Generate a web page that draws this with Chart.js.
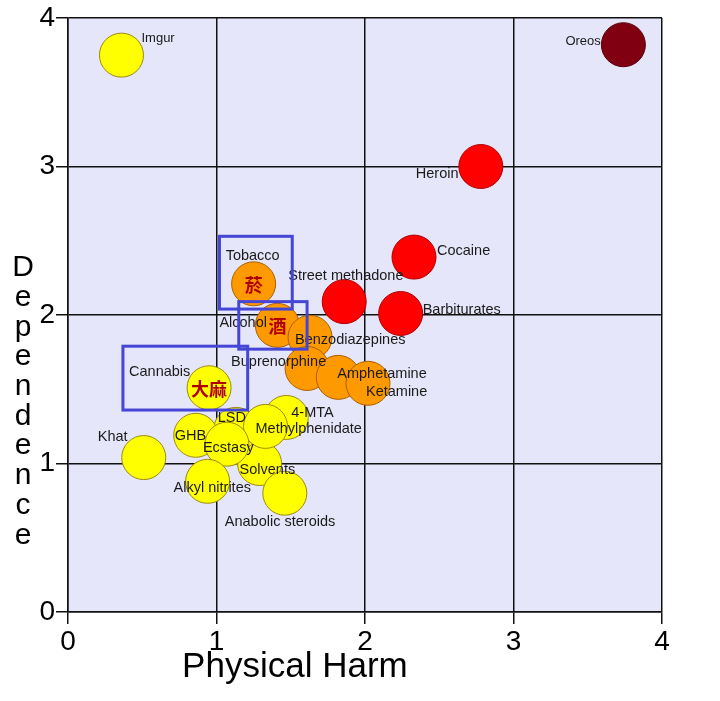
<!DOCTYPE html>
<html>
<head>
<meta charset="utf-8">
<title>Dependence vs Physical Harm</title>
<script src="https://cdn.jsdelivr.net/npm/chart.js@4.4.1/dist/chart.umd.min.js"></script>
<style>
  html, body { margin: 0; padding: 0; background: #fff; }
  canvas { display: block; }
</style>
</head>
<body>
<canvas id="harmChart" width="720" height="701"></canvas>
<script>
// ── Data (drawing order, back to front) ──────────────────────────────────────
const NAMES = ['Oreos', 'Imgur', 'Heroin', 'Cocaine', 'Street methadone', 'Barbiturates',
  'Tobacco', 'Alcohol', 'Benzodiazepines', 'Buprenorphine', 'Amphetamine', 'Ketamine',
  'Solvents', '4-MTA', 'LSD', 'GHB', 'Methylphenidate', 'Ecstasy', 'Alkyl nitrites',
  'Anabolic steroids', 'Khat', 'Cannabis'];
const HARM = [3.74, 0.36, 2.78, 2.33, 1.86, 2.24,
  1.25, 1.41, 1.63, 1.61, 1.82, 2.02,
  1.29, 1.47, 1.13, 0.86, 1.33, 1.07, 0.94,
  1.46, 0.51, 0.95];
const DEPENDENCE = [3.82, 3.75, 3.00, 2.39, 2.09, 2.01,
  2.21, 1.93, 1.85, 1.64, 1.58, 1.54,
  1.00, 1.31, 1.23, 1.19, 1.25, 1.13, 0.88,
  0.80, 1.04, 1.51];
const GROUP = ['oreo', 'yellow', 'red', 'red', 'red', 'red',
  'orange', 'orange', 'orange', 'orange', 'orange', 'orange',
  'yellow', 'yellow', 'yellow', 'yellow', 'yellow', 'yellow', 'yellow',
  'yellow', 'yellow', 'yellow'];
const HANZI = { Tobacco: '菸', Alcohol: '酒', Cannabis: '大麻' };
// highlighted boxes in data units: [xMin, xMax, yMin, yMax]
const BOXES = [
  [1.02, 1.51, 2.04, 2.53],
  [1.15, 1.61, 1.77, 2.09],
  [0.37, 1.21, 1.36, 1.79],
];
const X_TICKS = [0, 1, 2, 3, 4];
const Y_TICKS = [0, 1, 2, 3, 4];

// ── Styles ───────────────────────────────────────────────────────────────────
const FILL = { oreo: '#800012', red: '#ff0000', orange: '#ff9900', yellow: '#ffff00' };
const EDGE = { oreo: '#5a000c', red: '#b00000', orange: '#a86000', yellow: '#9a8a10' };
const BUBBLE_R = 22;
// label offset from bubble centre (px), text left-aligned, vertically centred
const LABEL_POS = {
  'Oreos': [-58, -3, 13], 'Imgur': [20, -17, 13], 'Heroin': [-65, 7], 'Cocaine': [23, -6],
  'Street methadone': [-56, -26], 'Barbiturates': [22, -4], 'Tobacco': [-28, -28],
  'Alcohol': [-58, -2], 'Benzodiazepines': [-15, 3], 'Buprenorphine': [-76, -6],
  'Amphetamine': [-1, -3], 'Ketamine': [-2, 9], 'Solvents': [-20, 6], '4-MTA': [5, -4],
  'LSD': [-18, -11], 'GHB': [-21, 1], 'Methylphenidate': [-10, 3], 'Ecstasy': [-24, 4],
  'Alkyl nitrites': [-34, 7], 'Anabolic steroids': [-60, 29], 'Khat': [-46, -21],
  'Cannabis': [-80, -16],
};

const points = NAMES.map((n, i) => ({ x: HARM[i], y: DEPENDENCE[i], r: BUBBLE_R }));

const decorPlugin = {
  id: 'decor',
  beforeDraw(chart) {
    const { ctx, chartArea: a } = chart;
    ctx.save();
    ctx.fillStyle = '#e6e6fa';
    ctx.fillRect(a.left, a.top, a.right - a.left, a.bottom - a.top);
    ctx.restore();
  },
  afterDraw(chart) {
    const { ctx, chartArea: a, scales } = chart;
    const meta = chart.getDatasetMeta(0);
    ctx.save();
    // names
    ctx.textBaseline = 'middle';
    ctx.textAlign = 'left';
    ctx.fillStyle = '#1a1a1a';
    meta.data.forEach((el, i) => {
      const p = LABEL_POS[NAMES[i]];
      ctx.font = (p[2] || 14.5) + 'px "Liberation Sans", Arial, sans-serif';
      ctx.fillText(NAMES[i], el.x + p[0], el.y + p[1]);
    });
    // chinese characters on top of bubbles
    ctx.textAlign = 'center';
    ctx.fillStyle = '#b00000';
    ctx.font = 'bold 18px "Noto Sans CJK TC", "Noto Sans CJK SC", sans-serif';
    meta.data.forEach((el, i) => {
      const h = HANZI[NAMES[i]];
      if (h) ctx.fillText(h, el.x, el.y + 1);
    });
    // blue boxes
    ctx.strokeStyle = '#4545d6';
    ctx.lineWidth = 3;
    BOXES.forEach(b => {
      const x0 = scales.x.getPixelForValue(b[0]), x1 = scales.x.getPixelForValue(b[1]);
      const y0 = scales.y.getPixelForValue(b[3]), y1 = scales.y.getPixelForValue(b[2]);
      ctx.strokeRect(x0, y0, x1 - x0, y1 - y0);
    });
    // axis titles
    ctx.fillStyle = '#000';
    ctx.textAlign = 'center';
    ctx.textBaseline = 'alphabetic';
    ctx.font = '35px "Liberation Sans", Arial, sans-serif';
    ctx.fillText('Physical Harm', a.left + (a.right - a.left) * 0.382, a.bottom + 65);
    ctx.textBaseline = 'middle';
    ctx.font = '30px "Liberation Sans", Arial, sans-serif';
    'Dependence'.split('').forEach((ch, i) => {
      ctx.fillText(ch, 23, a.top + 250 + i * 29.7);
    });
    ctx.restore();
  },
};

const gridOpts = {
  color: '#111',
  lineWidth: 1.5,
  tickLength: 12,
  tickColor: '#111',
  tickWidth: 1.5,
};
const tickFont = { family: '"Liberation Sans", Arial, sans-serif', size: 28, lineHeight: 1 };

new Chart(document.getElementById('harmChart'), {
  type: 'bubble',
  data: {
    datasets: [{
      data: points,
      backgroundColor: GROUP.map(g => FILL[g]),
      borderColor: GROUP.map(g => EDGE[g]),
      borderWidth: 1,
    }],
  },
  options: {
    responsive: false,
    animation: false,
    devicePixelRatio: 1,
    events: [],
    layout: { autoPadding: false, padding: { top: 18, right: 58, left: 0, bottom: 0 } },
    plugins: { legend: { display: false }, tooltip: { enabled: false } },
    scales: {
      x: {
        min: 0, max: 4,
        afterBuildTicks: s => { s.ticks = X_TICKS.map(v => ({ value: v })); },
        afterFit: s => { s.height = 89; s.paddingLeft = 0; s.paddingRight = 0; },
        grid: gridOpts,
        border: { display: true, color: '#111', width: 1.5 },
        ticks: { font: tickFont, color: '#000', padding: 4 },
      },
      y: {
        min: 0, max: 4,
        afterBuildTicks: s => { s.ticks = Y_TICKS.map(v => ({ value: v })); },
        afterFit: s => { s.width = 68; s.paddingTop = 0; s.paddingBottom = 0; },
        grid: gridOpts,
        border: { display: true, color: '#111', width: 1.5 },
        ticks: { font: tickFont, color: '#000', padding: 1 },
      },
    },
  },
  plugins: [decorPlugin],
});
</script>
</body>
</html>
